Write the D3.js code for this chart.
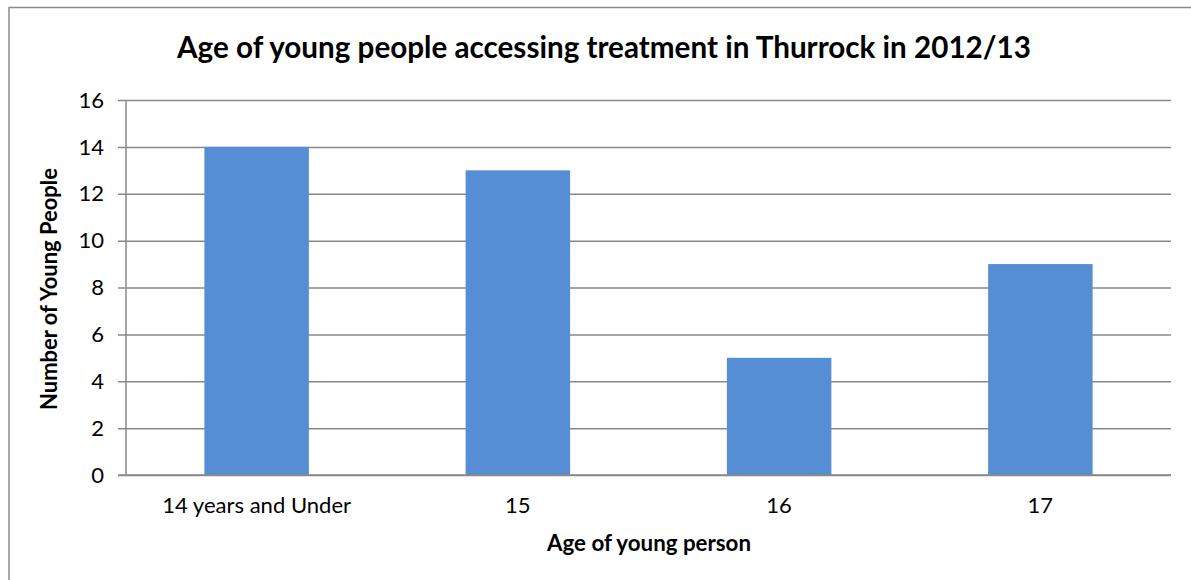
<!DOCTYPE html>
<html>
<head>
<meta charset="utf-8">
<script src="https://cdn.jsdelivr.net/npm/d3@7"></script>
<style>
  html, body { margin: 0; padding: 0; background: #fff; }
  svg { display: block; }
  text { font-family: Lato, "Open Sans", sans-serif; fill: #000; }
</style>
</head>
<body>
<svg id="chart" width="1191" height="580"></svg>
<script>
const categories = ["14 years and Under", "15", "16", "17"];
const values = [14, 13, 5, 9];
const yTicks = [0, 2, 4, 6, 8, 10, 12, 14, 16];
const titleText = "Age of young people accessing treatment in Thurrock in 2012/13";
const xTitle = "Age of young person";
const yTitle = "Number of Young People";

const svg = d3.select("#chart");
const W = 1191, H = 580;
const plot = { left: 126, right: 1171, top: 100, bottom: 475 };

svg.append("rect").attr("width", W).attr("height", H).attr("fill", "#fff");

// outer border (top and left visible)
svg.append("path")
  .attr("d", `M9,${H} L9,7.5 L${W},7.5`)
  .attr("fill", "none").attr("stroke", "#8c8c8c").attr("stroke-width", 1.5);

const x = d3.scaleBand().domain(categories)
  .range([plot.left, plot.right]).paddingInner(0.6).paddingOuter(0.3);
const y = d3.scaleLinear().domain([0, 16]).range([plot.bottom, plot.top]);

function fitSize(sel, target) {
  const len = sel.node().getComputedTextLength();
  const fs = parseFloat(sel.attr("font-size"));
  sel.attr("font-size", (fs * target / len).toFixed(2));
}

// gridlines + ticks via axis
const yAxis = d3.axisLeft(y).tickValues(yTicks)
  .tickSize(-(plot.right - plot.left)).tickPadding(0).tickFormat("");
const yg = svg.append("g").attr("transform", `translate(${plot.left},0)`).call(yAxis);
yg.select(".domain").remove();
yg.selectAll(".tick line").attr("stroke", "#888").attr("stroke-width", 1.5)
  .attr("x1", -8);

svg.append("line")
  .attr("x1", plot.left).attr("x2", plot.left)
  .attr("y1", plot.top).attr("y2", plot.bottom)
  .attr("stroke", "#888").attr("stroke-width", 1.5);

// bars
svg.append("g").selectAll("rect").data(values).join("rect")
  .attr("x", (d, i) => x(categories[i]))
  .attr("width", x.bandwidth())
  .attr("y", d => y(d))
  .attr("height", d => y(0) - y(d))
  .attr("fill", "#558ED5");

svg.append("line")
  .attr("x1", plot.left - 8).attr("x2", plot.right)
  .attr("y1", y(0)).attr("y2", y(0))
  .attr("stroke", "#888").attr("stroke-width", 1.5);

// x tick labels
const xl = svg.append("g").selectAll("text").data(categories).join("text")
  .attr("x", d => x(d) + x.bandwidth() / 2).attr("y", 513)
  .attr("text-anchor", "middle").attr("font-size", 19)
  .text(d => d);
let fs = 19;
{
  const len = xl.filter((d, i) => i === 0).node().getComputedTextLength();
  fs = 19 * 189 / len;
  xl.attr("font-size", fs.toFixed(2));
}

// y tick labels
svg.append("g").selectAll("text").data(yTicks).join("text")
  .attr("x", 104).attr("y", d => y(d))
  .attr("dy", "0.35em").attr("text-anchor", "end")
  .attr("font-size", fs.toFixed(2))
  .text(d => d);

// title
const t = svg.append("text").attr("x", 604).attr("y", 58)
  .attr("text-anchor", "middle").attr("font-weight", "bold")
  .attr("font-size", 24).text(titleText);
fitSize(t, 854);

// x axis title
const xt = svg.append("text").attr("x", 649).attr("y", 551)
  .attr("text-anchor", "middle").attr("font-weight", "bold")
  .attr("font-size", 17).text(xTitle);
fitSize(xt, 204);

// y axis title
const yt = svg.append("text")
  .attr("transform", `translate(57,289) rotate(-90)`)
  .attr("text-anchor", "middle").attr("font-weight", "bold")
  .attr("font-size", 17).text(yTitle);
fitSize(yt, 242);
</script>
</body>
</html>
